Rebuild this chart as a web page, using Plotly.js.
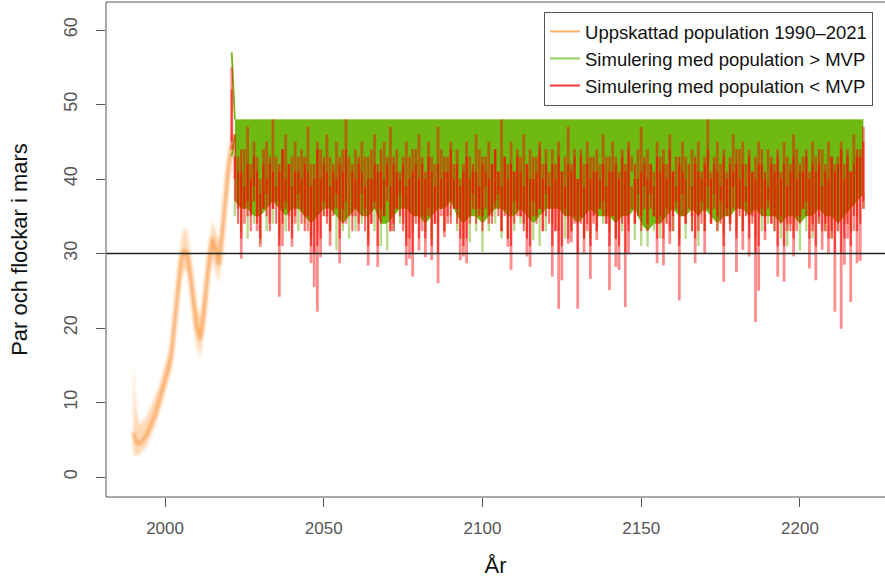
<!DOCTYPE html>
<html>
<head>
<meta charset="utf-8">
<script src="https://cdn.plot.ly/plotly-3.0.1.min.js"></script>
<style>
  html, body { margin: 0; padding: 0; background: #fff; overflow: hidden; }
  #chart { width: 885px; height: 578px; }
</style>
</head>
<body>
<div id="chart"></div>
<script>
// ---- Estimated population 1990–2021 (pairs and packs in March) ----
const estFirstYear = 1990;
const estMid  = [6, 4.5, 4.5, 5, 5.5, 6.5, 7.5, 8.5, 10, 11.5,
                 13, 14.5, 16.5, 20.5, 25.5, 29, 30.5, 30, 27, 23,
                 20, 18.5, 21, 25.5, 29.5, 32, 30, 28.5, 32.5, 37.5,
                 41.5, 44.5];
const estLow  = [3, 2.8, 3, 3.5, 4, 5, 6, 7, 8.5, 10,
                 11.5, 13, 14.5, 18.5, 23, 26.5, 28, 27.5, 24.5, 20.5,
                 17.5, 16, 18.5, 23, 27, 29.5, 27.5, 26, 30, 35,
                 39.5, 42.5];
const estHigh = [15, 9, 7, 7.5, 8, 9, 10, 11, 12, 13.5,
                 15, 16.5, 18.5, 23, 28, 31.5, 33.5, 33, 30, 26,
                 23, 21.5, 24, 28.5, 32, 34.5, 33, 31.5, 35, 40,
                 43.5, 47];

// ---- Simulations 2021–2220 ----
const CEILING = 48;      // carrying capacity the simulations are capped at
const MVP_LINE = 30;     // minimum viable population reference line

// yearly span of all simulations that fall below MVP (from 2021)
const redFirstYear = 2021;
const redTop = [55,
  46, 43, 41, 44, 47, 42, 45, 43, 40, 44,
  45, 42, 48, 43, 41, 44, 46, 42, 43, 45,
  41, 44, 43, 47, 42, 40, 45, 44, 42, 46,
  43, 41, 45, 42, 44, 48, 43, 41, 44, 42,
  45, 43, 40, 44, 46, 42, 41, 45, 43, 47,
  42, 44, 41, 43, 45, 40, 44, 42, 46, 43,
  41, 45, 43, 42, 47, 44, 41, 43, 45, 42,
  44, 40, 42, 45, 43, 41, 46, 44, 42, 43,
  45, 42, 44, 41, 48, 43, 42, 45, 41, 44,
  43, 46, 42, 44, 40, 43, 45, 42, 44, 41,
  44, 42, 45, 41, 43, 47, 42, 44, 40, 43,
  42, 45, 43, 41, 44, 42, 46, 43, 41, 45,
  43, 41, 44, 42, 45, 43, 40, 44, 47, 42,
  44, 42, 41, 45, 43, 44, 42, 46, 41, 43,
  42, 45, 43, 40, 44, 42, 45, 41, 43, 48,
  41, 43, 45, 42, 44, 41, 43, 46, 42, 44,
  45, 42, 44, 41, 43, 45, 42, 40, 44, 43,
  42, 44, 41, 45, 43, 42, 46, 44, 41, 43,
  44, 41, 45, 43, 42, 44, 41, 45, 43, 42,
  43, 45, 42, 44, 41, 46, 43, 44, 47];
const redBottom = [44,
  40, 36, 29.3, 34, 37, 35, 39, 33, 30.9, 36,
  38, 34, 36, 37, 24.2, 31, 37, 35, 30.9, 34,
  38, 36, 35, 33, 28.7, 25.5, 22.2, 29.5, 37, 35,
  31, 36, 38, 28.7, 36, 34, 39, 35, 35, 33,
  38, 36, 28.4, 34, 37, 28.2, 36, 35, 39, 33,
  33, 36, 38, 34, 28.4, 29.3, 26.9, 35, 30.4, 33,
  29.5, 36, 29.1, 34, 26, 35, 32.2, 34, 37, 36,
  36, 29.1, 29.6, 28.7, 34, 38, 36, 36, 35, 39,
  34, 35, 37, 38, 33, 36, 30.9, 27.8, 37, 35,
  35, 34, 29.6, 28.2, 37, 35, 36, 33, 38, 36,
  26.9, 33, 22.6, 26.4, 36, 31.3, 31.5, 34, 22.6, 35,
  30, 33, 26.6, 34, 31.8, 36, 37, 34, 25.1, 35,
  28.2, 27.8, 35, 22.8, 30, 41, 34, 38, 35, 39,
  33, 38, 35, 28.7, 34, 28.4, 36, 31.3, 33, 37,
  23.7, 38, 34, 40, 35, 28.7, 33, 37, 30, 39,
  34, 38, 33, 37, 26.2, 36, 34, 39, 27.5, 36,
  30.5, 37, 29.6, 35, 20.8, 25, 36, 31.8, 37, 34,
  35, 26.9, 34, 26.2, 33, 34, 29.6, 33, 35, 36,
  37, 28, 33, 26.4, 34, 30.5, 33, 30, 32, 22.2,
  33, 19.9, 28.5, 32, 23.5, 33, 28.7, 29, 36];
// yearly span where several of those simulations overlap
const redCoreTop = [52,
  43, 41, 44, 39, 42, 40, 43, 41, 38, 42,
  40, 43, 41, 39, 42, 44, 40, 42, 39, 41,
  43, 40, 42, 41, 39, 42, 44, 40, 43, 41,
  39, 42, 40, 43, 41, 44, 39, 42, 40, 43,
  41, 39, 43, 40, 42, 41, 44, 40, 42, 39,
  43, 41, 40, 42, 39, 43, 41, 44, 40, 42,
  40, 43, 41, 39, 42, 40, 43, 41, 44, 40,
  42, 39, 41, 43, 40, 42, 41, 39, 43, 41,
  40, 42, 44, 41, 39, 43, 40, 42, 41, 43,
  41, 39, 42, 40, 43, 41, 44, 40, 42, 39,
  42, 40, 43, 41, 39, 42, 41, 43, 40, 44,
  39, 42, 40, 43, 41, 40, 42, 39, 43, 41,
  42, 40, 43, 41, 44, 39, 42, 40, 41, 43,
  40, 42, 39, 43, 41, 42, 40, 44, 41, 39,
  43, 41, 40, 42, 39, 43, 41, 40, 42, 44,
  40, 42, 41, 39, 43, 40, 42, 41, 44, 40,
  42, 39, 43, 41, 40, 42, 44, 41, 39, 42,
  41, 43, 40, 42, 39, 41, 43, 40, 42, 41,
  43, 40, 42, 41, 44, 39, 42, 40, 43, 41,
  42, 44, 40, 43, 41, 42, 44, 43, 45];
const redCoreBottom = [45,
  37, 34, 32, 36, 35, 33, 37, 34, 32, 36,
  35, 33, 36, 34, 31, 34, 36, 33, 32, 35,
  36, 34, 33, 35, 31, 30, 31, 32, 35, 34,
  33, 35, 36, 32, 34, 37, 35, 33, 36, 34,
  35, 33, 31, 34, 36, 31, 34, 35, 37, 33,
  34, 36, 35, 33, 31, 32, 30, 34, 32, 35,
  32, 35, 31, 34, 30, 36, 33, 35, 34, 36,
  34, 32, 31, 32, 35, 36, 34, 35, 33, 36,
  35, 34, 36, 35, 33, 35, 32, 31, 34, 36,
  35, 33, 32, 31, 35, 34, 36, 33, 35, 34,
  31, 33, 30, 31, 35, 32, 33, 35, 30, 34,
  32, 34, 31, 35, 33, 36, 35, 34, 31, 35,
  32, 31, 34, 30, 33, 36, 34, 35, 33, 36,
  34, 36, 35, 32, 35, 32, 34, 33, 35, 36,
  31, 35, 34, 36, 33, 32, 35, 34, 33, 36,
  34, 36, 35, 34, 31, 35, 33, 36, 32, 35,
  33, 35, 32, 34, 30, 31, 35, 33, 36, 34,
  33, 31, 35, 31, 34, 33, 32, 35, 34, 36,
  35, 32, 34, 31, 35, 33, 34, 32, 33, 30,
  34, 30, 32, 34, 31, 35, 33, 34, 37];

// envelope of the simulations above MVP (every second year, from 2022)
const greenFirstYear = 2022;
const greenCore = [37, 36, 36, 35, 35, 36, 37, 36, 35, 36,
                   36, 35, 34, 35, 36, 36, 35, 34, 35, 36,
                   35, 35, 36, 34, 34, 35, 36, 36, 35, 35,
                   34, 35, 36, 36, 37, 35, 34, 35, 35, 34,
                   35, 36, 36, 35, 35, 36, 35, 34, 35, 36,
                   36, 36, 35, 35, 34, 35, 36, 35, 35, 35,
                   34, 35, 35, 36, 34, 33, 34, 34, 35, 36,
                   35, 35, 36, 35, 36, 35, 34, 35, 35, 36,
                   36, 35, 36, 35, 35, 35, 34, 35, 35, 34,
                   35, 35, 36, 35, 35, 34, 35, 36, 37, 38];
const greenLow  = [35, 33, 32, 34, 31.3, 33, 34, 32, 33, 34,
                   33, 34, 32, 33, 35, 33, 30.4, 33, 32, 33,
                   34, 32, 33, 31, 30.4, 33, 34, 32, 33, 34,
                   33, 32, 34, 33, 35, 33, 32, 31.5, 33, 30.2,
                   33, 34, 32, 32, 33, 34, 33, 31.8, 31, 33,
                   34, 33, 32, 33, 34, 32, 32, 33, 34, 33,
                   32, 33, 34, 31.8, 31, 30.9, 33, 32, 34, 33,
                   32, 32, 33, 31, 33, 34, 33, 32.5, 34, 33,
                   33, 34, 32, 33, 34, 33, 32, 31, 33, 30.4,
                   33, 32, 34, 33, 32, 33, 34, 33, 35, 36];
// first simulated year, before the cap applies
const greenStartYears = [2021, 2022];
const greenStartHigh  = [57, 48];
const greenStartLow   = [43, 46];

// axis ticks and legend text
const xTicks = [2000, 2050, 2100, 2150, 2200];
const yTicks = [0, 10, 20, 30, 40, 50, 60];
const legendNames = ['Uppskattad population 1990\u20132021',
                     'Simulering med population > MVP',
                     'Simulering med population < MVP'];

// ---- derived x values and vertical segments ----
const estYears   = estMid.map((_, i) => estFirstYear + i);
const redYears   = redTop.map((_, i) => redFirstYear + i);
const greenYears = greenCore.map((_, i) => greenFirstYear + 2 * i);
const ceilingLine = greenYears.map(() => CEILING);

function segments(xs, from, to) {
  const x = [], y = [];
  xs.forEach((v, i) => { x.push(v, v, null); y.push(from[i], to[i], null); });
  return {x, y};
}
const redSeg = segments(redYears, redTop, redBottom);
const redCoreSeg = segments(redYears, redCoreTop, redCoreBottom);
const greenSeg = segments(greenYears, greenCore, greenLow);

const ORANGE_BAND = 'rgba(253,168,88,0.42)';
const ORANGE_LINE = 'rgba(250,140,45,0.6)';
const GREEN = 'rgb(112,184,18)';
const GREEN_LIGHT = 'rgba(112,184,18,0.5)';
const RED = 'rgba(255,0,0,0.45)';
const RED_CORE = 'rgba(255,0,0,0.6)';

const base = {type: 'scatter', mode: 'lines', showlegend: false, hoverinfo: 'skip'};

const data = [
  // estimated population: uncertainty band and centre
  Object.assign({}, base, {x: estYears, y: estLow, line: {width: 0, color: ORANGE_BAND}}),
  Object.assign({}, base, {x: estYears, y: estHigh, fill: 'tonexty', fillcolor: ORANGE_BAND, line: {width: 0, color: ORANGE_BAND}}),
  Object.assign({}, base, {x: estYears, y: estMid, line: {width: 3.5, color: ORANGE_LINE}}),

  // simulations above MVP: light outer spikes, then dense core
  Object.assign({}, base, {x: greenSeg.x, y: greenSeg.y, line: {width: 2.4, color: GREEN_LIGHT}}),
  Object.assign({}, base, {x: greenYears, y: ceilingLine, line: {width: 1, color: 'rgba(150,210,80,0.8)'}}),
  Object.assign({}, base, {x: greenYears, y: greenCore, fill: 'tonexty', fillcolor: GREEN, line: {width: 0, color: GREEN}}),
  Object.assign({}, base, {x: greenStartYears, y: greenStartHigh, line: {width: 1.8, color: GREEN}}),
  Object.assign({}, base, {x: greenStartYears, y: greenStartLow, line: {width: 1.8, color: GREEN}}),

  // simulations falling below MVP
  Object.assign({}, base, {x: redSeg.x, y: redSeg.y, line: {width: 2.8, color: RED}}),
  Object.assign({}, base, {x: redCoreSeg.x, y: redCoreSeg.y, line: {width: 2, color: RED_CORE}}),

  // legend entries
  {type: 'scatter', mode: 'lines', x: [null], y: [null], name: legendNames[0], line: {color: 'rgb(253,178,108)', width: 2}},
  {type: 'scatter', mode: 'lines', x: [null], y: [null], name: legendNames[1], line: {color: 'rgb(150,205,90)', width: 2}},
  {type: 'scatter', mode: 'lines', x: [null], y: [null], name: legendNames[2], line: {color: 'rgb(245,55,55)', width: 2}}
];

const axisFont = {family: 'Liberation Sans, Arial, sans-serif', size: 17, color: '#555'};
const titleFont = {family: 'Liberation Sans, Arial, sans-serif', size: 22, color: '#111'};

const layout = {
  width: 885, height: 578,
  margin: {l: 106, r: 0, t: 2, b: 81, pad: 0},
  paper_bgcolor: '#fff', plot_bgcolor: '#fff',
  font: {family: 'Liberation Sans, Arial, sans-serif', color: '#222'},
  showlegend: true,
  legend: {
    x: 0.5623, xanchor: 'left', y: 0.98, yanchor: 'top',
    bgcolor: '#fff', bordercolor: '#555', borderwidth: 1,
    font: {family: 'Liberation Sans, Arial, sans-serif', size: 18.5, color: '#111'},
    itemwidth: 30, tracegroupgap: 0, traceorder: 'normal'
  },
  xaxis: {
    range: [1981.4, 2226.8], tickmode: 'array', tickvals: xTicks,
    ticks: 'outside', ticklen: 9, tickcolor: '#555', tickwidth: 1,
    ticklabelstandoff: 7,
    tickfont: axisFont, showgrid: false, zeroline: false, showline: false,
    automargin: false,
    title: {text: 'År', font: titleFont, standoff: 23}
  },
  yaxis: {
    range: [-2.68, 63.76], tickmode: 'array', tickvals: yTicks,
    ticks: 'outside', ticklen: 9, tickcolor: '#555', tickwidth: 1,
    tickangle: -90, ticklabelstandoff: 12,
    tickfont: {family: 'Liberation Sans, Arial, sans-serif', size: 18, color: '#555'},
    showgrid: false, zeroline: false, showline: false,
    automargin: false,
    title: {text: 'Par och flockar i mars', font: titleFont, standoff: 27}
  },
  shapes: [
    {type: 'line', xref: 'paper', x0: 0, x1: 1, yref: 'y', y0: MVP_LINE, y1: MVP_LINE,
     line: {color: '#222', width: 1.3}, layer: 'above'},
    {type: 'rect', xref: 'paper', x0: 0, x1: 1.05, yref: 'paper', y0: 0, y1: 1,
     line: {color: '#555', width: 1}, fillcolor: 'rgba(0,0,0,0)', layer: 'above'}
  ]
};

Plotly.newPlot('chart', data, layout, {staticPlot: true, displayModeBar: false}).then(gd => {
  // soften the estimated-population band, which is drawn from many overlapping draws
  const svg = gd.querySelector('svg.main-svg');
  const ns = 'http://www.w3.org/2000/svg';
  let defs = svg.querySelector('defs');
  if (!defs) { defs = document.createElementNS(ns, 'defs'); svg.insertBefore(defs, svg.firstChild); }
  const filter = document.createElementNS(ns, 'filter');
  filter.setAttribute('id', 'soften');
  filter.setAttribute('x', '-20%'); filter.setAttribute('y', '-20%');
  filter.setAttribute('width', '140%'); filter.setAttribute('height', '140%');
  const blur = document.createElementNS(ns, 'feGaussianBlur');
  blur.setAttribute('stdDeviation', '1.6');
  filter.appendChild(blur);
  defs.appendChild(filter);
  const traces = gd.querySelectorAll('.scatterlayer .trace');
  for (let i = 0; i < 3 && i < traces.length; i++) traces[i].setAttribute('filter', 'url(#soften)');
});
</script>
</body>
</html>
